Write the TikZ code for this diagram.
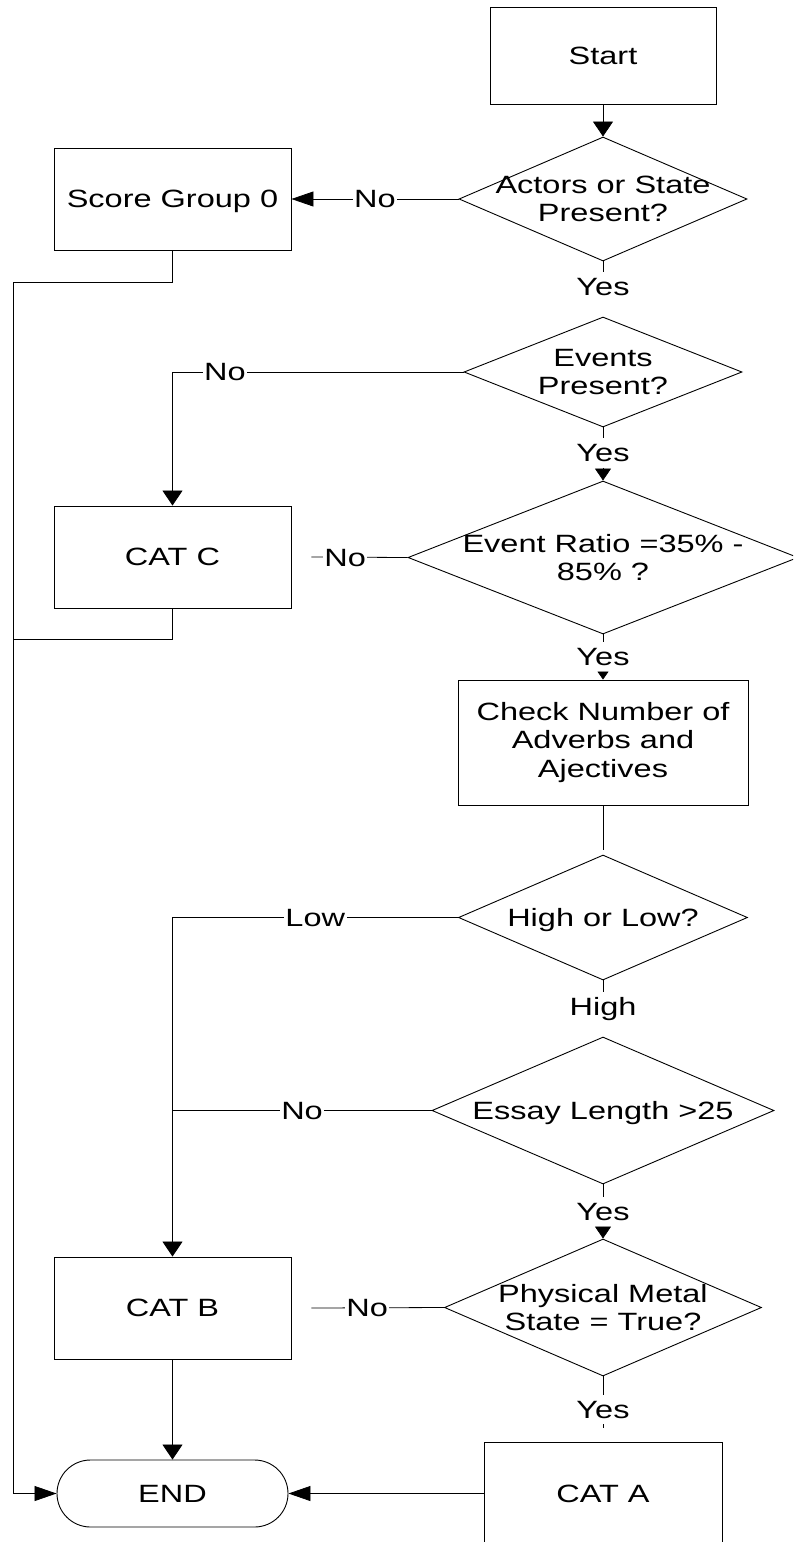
\documentclass[tikz,border=0pt]{standalone}
\usepackage{fontspec}
\setmainfont{Liberation Sans}[FakeStretch=1.3]
\usetikzlibrary{shapes.geometric,arrows.meta}

\begin{document}
\begin{tikzpicture}[x=1pt,y=-1pt,
  every node/.style={font=\fontsize{25pt}{28.5pt}\selectfont},
  conn/.style={line width=0.8pt},
  box/.style={draw, line width=0.9pt, rectangle, inner sep=0pt,
    minimum width=237pt, minimum height=102pt},
  oneline/.style={text height=17.9pt, text depth=0pt},
  decision/.style={draw, diamond, line width=0.9pt, inner sep=0pt},
  dtext/.style={align=center, inner sep=0pt},
  dline/.style={inner sep=0pt, text height=17.9pt, text depth=0pt},
  lab/.style={fill=white, inner xsep=1.5pt, inner ysep=5.8pt,
    text height=17.9pt, text depth=0pt},
  vtip/.style={-{Triangle[width=20pt,length=15pt]}},
  htip/.style={-{Triangle[width=15pt,length=22pt]}},
  mtip/.style={-{Triangle[width=16pt,length=12pt]}},
  stip/.style={-{Triangle[width=11pt,length=8pt]}}
]
\useasboundingbox (0,0) rectangle (793,1542);
\clip (0,0) rectangle (793,1542);
\fill[white] (0,0) rectangle (793,1542);

% main column
\node[box, oneline, minimum width=226pt, minimum height=97pt] (start) at (603,55.5) {Start};
\node[decision, minimum width=288pt, minimum height=124pt,
  label={[dtext]center:Actors or State\\Present?}] (d1) at (603,199) {};
\node[decision, minimum width=278pt, minimum height=110pt,
  label={[dtext]center:Events\\Present?}] (d2) at (603,372) {};
\node[decision, minimum width=390pt, minimum height=153pt,
  label={[dtext]center:Event Ratio =35\% -\\85\% ?}] (d3) at (603,557.5) {};
\node[box, align=center, minimum width=290pt, minimum height=125pt] (check) at (603,742.5)
  {Check Number of\\Adverbs and\\Ajectives};
\node[decision, minimum width=289pt, minimum height=125pt,
  label={[dline]center:High or Low?}] (d4) at (603,917.5) {};
\node[decision, minimum width=342pt, minimum height=147pt,
  label={[dline]center:Essay Length >25}] (d5) at (603,1110.5) {};
\node[decision, minimum width=317pt, minimum height=137pt,
  label={[dtext]center:Physical Metal\\State = True?}] (d6) at (603,1307.5) {};
\node[box, oneline, minimum width=238pt] (cata) at (603,1493.5) {CAT A};

% outcome column
\node[box, oneline] (score) at (172.5,199) {Score Group 0};
\node[box, oneline] (catc) at (172.5,557) {CAT C};
\node[box, oneline] (catb) at (172.5,1308) {CAT B};
\node[draw, line width=0.9pt, rounded corners=33.5pt, inner sep=0pt, oneline,
  minimum width=231pt, minimum height=67pt] (end) at (172.5,1493.5) {END};

% labels on the downward branches
\node[lab] (y1) at (603,287) {Yes};
\node[lab] (y2) at (603,453) {Yes};
\node[lab] (y3) at (603,657) {Yes};
\node[lab] (y4) at (603,1007) {High};
\node[lab] (y5) at (603,1212) {Yes};
\node[lab] (y6) at (603,1409.5) {Yes};

% downward flow
\draw[conn, vtip] (start) -- (d1);
\draw[conn] (d1) -- (y1);
\draw[conn] (d2) -- (y2);
\draw[conn, mtip] (y2) -- (d3);
\draw[conn] (d3) -- (y3);
\draw[conn, stip] (y3) -- (check);
\draw[conn] (check) -- ([yshift=5pt]d4.north);
\draw[conn] (d4) -- (y4);
\draw[conn] (d5) -- (y5);
\draw[conn, mtip] (y5) -- (d6);
\draw[conn] (d6) -- (y6);
\draw[conn] (y6.south) -- ++(0,4);

% side branches
\draw[conn, htip] (d1) -- (score) node[lab, pos=0.5] {No};
\draw[conn, vtip] (d2.west) -| (catc.north) node[lab, pos=0.41] {No};
\draw[conn] (d3.west) -- ([xshift=20pt]catc.east) node[lab, pos=0.65] {No};
\draw[conn, vtip] (d4.west) -| (catb.north) node[lab, pos=0.25] {Low};
\draw[conn] (d5.west) -- (d5.west -| catb.north) node[lab, midway] {No};
\draw[conn] (d6.west) -- ([xshift=20pt]catb.east) node[lab, pos=0.58] {No};

% routes into END
\draw[conn, htip] (score.south) -- ++(0,32) -| ([xshift=-43pt]end.west) -- (end.west);
\draw[conn] (catc.south) -- ++(0,31) -- ++(-158.5,0);
\draw[conn, vtip] (catb) -- (end);
\draw[conn, htip] (cata) -- (end);
\end{tikzpicture}
\end{document}
